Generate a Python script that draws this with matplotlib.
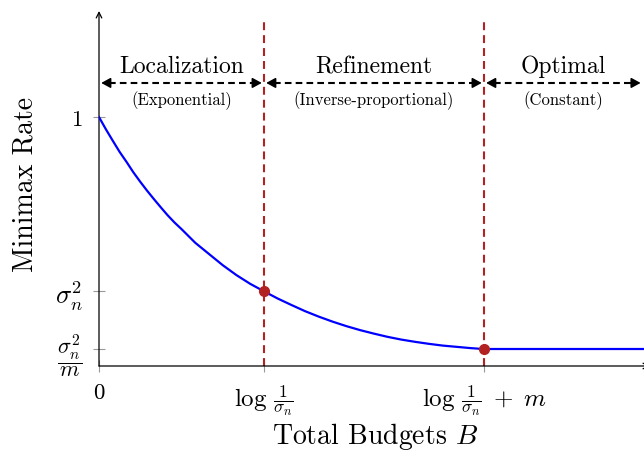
import matplotlib.pyplot as plt

plt.rcParams['mathtext.fontset'] = 'cm'
plt.rcParams['font.family'] = 'cmr10'
plt.rcParams['axes.formatter.use_mathtext'] = True

# --- values ---
budget_exp = [0.0, 0.125, 0.25, 0.375, 0.5, 0.625, 0.75, 0.875, 1.0, 1.125, 1.25,
              1.375, 1.5, 1.75, 2.0, 2.25, 2.5, 2.75, 3.0]
rate_exp = [1.0, 0.951, 0.905, 0.860, 0.82, 0.778, 0.74, 0.704, 0.67, 0.637, 0.605,
            0.576, 0.55, 0.495, 0.45, 0.405, 0.365, 0.33, 0.30]

budget_inv = [3.0, 3.25, 3.5, 3.75, 4.0, 4.25, 4.5, 4.75, 5.0, 5.25, 5.5, 5.75,
              6.0, 6.25, 6.5, 6.75, 7.0]
rate_inv = [0.30, 0.271, 0.245, 0.220, 0.198, 0.178, 0.160, 0.144, 0.130, 0.117,
            0.106, 0.097, 0.089, 0.082, 0.077, 0.072, 0.068]

budget_const = [7.0, 9.95]
rate_const = [0.068, 0.068]

sigma2 = 0.30
floor = 0.068
b_loc = 3.0
b_opt = 7.0
x_max = 10.02
y_max = 1.426

ytick_vals = [floor, sigma2, 1.0]
ytick_labels = [r'$\dfrac{\sigma_n^2}{m}$', r'$\sigma_n^2$', r'$1$']
ytick_sizes = [16, 19, 16.5]
xtick_vals = [0, b_loc, b_opt]
xtick_labels = [r'$0$', r'$\log\,\frac{1}{\sigma_n}$', r'$\log\,\frac{1}{\sigma_n}\;+\;m$']
xtick_sizes = [16.5, 18, 18]

phase_names = ['Localization', 'Refinement', 'Optimal']
phase_notes = ['(Exponential)', '(Inverse-proportional)', '(Constant)']
phase_edges = [0.0, b_loc, b_opt, 9.89]

arrow_y = 1.137
name_y = 1.205
note_y = 1.068
vline_top = 1.386

fig = plt.figure(figsize=(6.44, 4.6), dpi=100)
ax = fig.add_axes([99 / 644, 93 / 460, 551 / 644, 355 / 460])
ax.set_xlim(0, x_max)
ax.set_ylim(0, y_max)
for s in ax.spines.values():
    s.set_visible(False)

# axes with arrow heads
ax.annotate('', xy=(x_max, 0), xytext=(0, 0), annotation_clip=False,
            arrowprops=dict(arrowstyle='->', color='black', lw=0.9, shrinkA=0, shrinkB=0))
ax.annotate('', xy=(0, y_max), xytext=(0, 0), annotation_clip=False,
            arrowprops=dict(arrowstyle='->', color='black', lw=0.9, shrinkA=0, shrinkB=0))

ax.set_xticks(xtick_vals)
ax.set_xticklabels(xtick_labels)
ax.set_yticks(ytick_vals)
ax.set_yticklabels(ytick_labels)
ax.tick_params(direction='inout', length=8, width=0.8, color='#999999')
ax.tick_params(axis='x', pad=8)
ax.tick_params(axis='y', pad=8)
for lab, size in zip(ax.get_xticklabels(), xtick_sizes):
    lab.set_fontsize(size)
for lab, size in zip(ax.get_yticklabels(), ytick_sizes):
    lab.set_fontsize(size)

# phase boundaries
for b in [b_loc, b_opt]:
    ax.plot([b, b], [0, vline_top], color='#b22222', lw=1.5, dashes=(3.8, 2.4), zorder=2)

# rate curve
ax.plot(budget_exp, rate_exp, color='blue', lw=1.6, zorder=3, solid_joinstyle='round')
ax.plot(budget_inv, rate_inv, color='blue', lw=1.6, zorder=3, solid_joinstyle='round')
ax.plot(budget_const, rate_const, color='blue', lw=1.6, zorder=3, clip_on=False)
ax.plot([b_loc, b_opt], [sigma2, floor], 'o', color='#b22222', ms=7, zorder=4)

# phase arrows and labels
gap = 0.04
for i in range(3):
    left = phase_edges[i] + gap
    right = phase_edges[i + 1] - gap
    ax.plot([left + 0.15, right - 0.15], [arrow_y, arrow_y], color='black',
            lw=1.5, dashes=(3.2, 2.0))
    for tip, tail in [(left, left + 0.2), (right, right - 0.2)]:
        ax.annotate('', xy=(tip, arrow_y), xytext=(tail, arrow_y), annotation_clip=False,
                    arrowprops=dict(arrowstyle='-|>,head_length=0.55,head_width=0.3',
                                    color='black', lw=1.2, shrinkA=0, shrinkB=0))
    mid = (phase_edges[i] + phase_edges[i + 1]) / 2
    ax.text(mid, name_y, phase_names[i], ha='center', va='center', fontsize=17)
    ax.text(mid, note_y, phase_notes[i], ha='center', va='center', fontsize=12)

fig.text(25 / 644, 1 - 185 / 460, 'Minimax Rate', rotation=90, ha='center',
         va='center', fontsize=20)
fig.text(375 / 644, 1 - 437 / 460, 'Total Budgets $B$', ha='center',
         va='center', fontsize=20)

fig.savefig('out.png', dpi=100)
